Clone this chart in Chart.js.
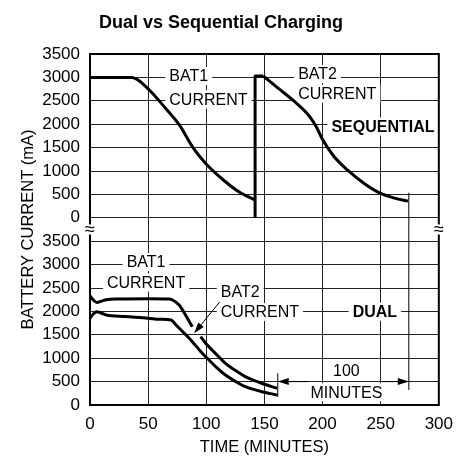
<!DOCTYPE html>
<html>
<head>
<meta charset="utf-8">
<script src="https://cdn.jsdelivr.net/npm/chart.js@4.4.1/dist/chart.umd.min.js"></script>
<style>
html, body { margin: 0; padding: 0; background: #fff; }
#wrap { width: 462px; height: 457px; }
</style>
</head>
<body>
<div id="wrap"><canvas id="chart" width="462" height="457"></canvas></div>
<script>
/* =============================================
 * Dual vs Sequential Charging (time in minutes, current in mA)
 * ============================================= */

// upper (sequential) panel is drawn on the same axis, lifted by this much
const SEQ_OFFSET = 4000;

// ── Sequential: BAT1, the jump to BAT2, then BAT2 ──
const seqBat1T = [0, 36, 41, 51, 65, 77, 88, 99.5, 116.5, 128, 142];
const seqBat1I = [3000, 3000, 2950, 2730, 2340, 1980, 1520, 1160, 770, 556, 378];
const seqJumpT = [142, 142, 149];
const seqJumpI = [0, 3030, 3030];
const seqBat2T = [149, 162, 176, 189, 194.6, 200.3, 210, 221.6, 235.8, 250, 262, 273.5];
const seqBat2I = [3030, 2765, 2480, 2160, 1945, 1660, 1304, 1019, 735, 521, 420, 357];

// ── Dual: both batteries at once (null = break where the pointer crosses) ──
const dualBat1T = [0, 3, 6, 10, 14, 23, 50, 68, 71, 76.7, 82, 88, 92, 95.2, 99.5, 108, 116.5, 125, 133.6, 147, 161];
const dualBat1I = [2330, 2240, 2190, 2220, 2250, 2265, 2270, 2265, 2244, 2137, 1930, 1673, null, 1459, 1318, 1100, 891, 740, 605, 470, 357];
const dualBat2T = [0, 3, 6, 10, 14, 30, 50, 60, 69.7, 74, 80, 88, 95, 102.3, 109, 116.5, 125, 133.6, 147, 161];
const dualBat2I = [1852, 1950, 1994, 1960, 1923, 1890, 1855, 1831, 1816, 1709, 1560, 1353, 1150, 962, 800, 641, 505, 391, 290, 214];

// ── Axes ──
const timeMin = 0, timeMax = 300, timeStep = 50;
const currMin = 0, currMax = 7500, currStep = 500;

const FONT = '"Liberation Sans Narrow", "Liberation Sans", Arial, sans-serif';
const INK = '#000';

// ── Callouts (x in minutes, y on the combined current axis) ──
const notes = [
    { t: 68.2,  align: 'left',   lines: [['BAT1', 7030], ['CURRENT', 6532]] },
    { t: 179,   align: 'left',   lines: [['BAT2', 7073], ['CURRENT', 6652]] },
    { t: 252,   align: 'center', bold: true, lines: [['SEQUENTIAL', 5951]] },
    { t: 48.2,  align: 'center', lines: [['BAT1', 3056], ['CURRENT', 2618]] },
    { t: 112.5, align: 'left',   lines: [['BAT2', 2415], ['CURRENT', 1987]] },
    { t: 245,   align: 'center', bold: true, lines: [['DUAL', 1994]] },
    { t: 220.5, align: 'center', lines: [['100', 733], ['MINUTES', 271]] }
];
const markers = [ { t: 161.5, from: 170, to: 680 }, { t: 274.2, from: 321, to: 4537 } ];
const arrows = [
    { t1: 187.5, i1: 500, t2: 161.5, i2: 500 },
    { t1: 251.4, i1: 500, t2: 274.2, i2: 500 },
    { t1: 111.5, i1: 2200, t2: 89.5, i2: 1532 }
];

function pts(T, I, off) {
    return T.map((t, k) => ({ x: t, y: I[k] === null ? null : I[k] + off }));
}

function curve(data, smooth) {
    return {
        data, showLine: true, borderColor: INK, borderWidth: 3, pointRadius: 0,
        fill: false, spanGaps: false, borderJoinStyle: 'round',
        cubicInterpolationMode: smooth ? 'monotone' : 'default', tension: 0
    };
}

function drawArrow(ctx, x1, y1, x2, y2) {
    const a = Math.atan2(y2 - y1, x2 - x1), len = 11, half = 3.5;
    ctx.beginPath(); ctx.moveTo(x1, y1); ctx.lineTo(x2 - Math.cos(a) * len * 0.8, y2 - Math.sin(a) * len * 0.8); ctx.stroke();
    ctx.beginPath();
    ctx.moveTo(x2, y2);
    ctx.lineTo(x2 - Math.cos(a) * len + Math.sin(a) * half, y2 - Math.sin(a) * len - Math.cos(a) * half);
    ctx.lineTo(x2 - Math.cos(a) * len - Math.sin(a) * half, y2 - Math.sin(a) * len + Math.cos(a) * half);
    ctx.closePath(); ctx.fill();
}

const overlay = {
    id: 'overlay',
    beforeDatasetsDraw(chart) {
        const { ctx, scales: { x, y } } = chart;
        ctx.save();
        ctx.textBaseline = 'middle';
        notes.forEach(n => {
            ctx.font = (n.bold ? 'bold ' : '') + '16px ' + FONT;
            const px = x.getPixelForValue(n.t);
            n.lines.forEach(([txt, v]) => {
                const py = y.getPixelForValue(v), w = ctx.measureText(txt).width;
                const left = n.align === 'left' ? px : px - w / 2;
                ctx.fillStyle = '#fff';
                ctx.fillRect(left - 4, py - 9, w + 8, 18);
                ctx.fillStyle = INK;
                ctx.textAlign = 'left';
                ctx.fillText(txt, left, py + 1);
            });
        });
        ctx.restore();
    },
    afterDatasetsDraw(chart) {
        const { ctx, chartArea: a, scales: { x, y } } = chart;
        ctx.save();
        ctx.strokeStyle = INK; ctx.fillStyle = INK; ctx.lineWidth = 1;
        markers.forEach(m => {
            const px = x.getPixelForValue(m.t);
            ctx.beginPath(); ctx.moveTo(px, y.getPixelForValue(m.from)); ctx.lineTo(px, y.getPixelForValue(m.to)); ctx.stroke();
        });
        arrows.forEach(r => drawArrow(ctx, x.getPixelForValue(r.t1), y.getPixelForValue(r.i1), x.getPixelForValue(r.t2), y.getPixelForValue(r.i2)));
        // frame
        ctx.lineWidth = 2;
        ctx.strokeRect(a.left, a.top, a.right - a.left, a.bottom - a.top);
        // axis break marks
        const yb = y.getPixelForValue(3750);
        ctx.font = '18px ' + FONT; ctx.textAlign = 'center'; ctx.textBaseline = 'middle';
        [a.left, a.right].forEach(px => {
            ctx.fillStyle = '#fff'; ctx.fillRect(px - 2, yb - 5, 4, 10);
            ctx.fillStyle = INK; ctx.fillText('\u2248', px, yb + 1);
        });
        ctx.restore();
    }
};

new Chart(document.getElementById('chart'), {
    type: 'scatter',
    data: {
        datasets: [
            curve(pts(seqBat1T, seqBat1I, SEQ_OFFSET), true),
            curve(pts(seqJumpT, seqJumpI, SEQ_OFFSET), false),
            curve(pts(seqBat2T, seqBat2I, SEQ_OFFSET), true),
            curve(pts(dualBat1T, dualBat1I, 0), true),
            curve(pts(dualBat2T, dualBat2I, 0), true)
        ]
    },
    options: {
        responsive: false, animation: false,
        layout: { padding: { left: 0, right: 20, top: 0, bottom: 0 } },
        plugins: {
            legend: { display: false }, tooltip: { enabled: false },
            title: {
                display: true, text: 'Dual vs Sequential Charging', color: INK,
                font: { family: FONT, size: 18, weight: 'bold' },
                padding: { top: 12, bottom: 20.4 }
            }
        },
        scales: {
            x: {
                type: 'linear', min: timeMin, max: timeMax,
                afterFit: s => { s.height = 52; },
                grid: { color: '#222', lineWidth: 1, drawTicks: false },
                border: { display: false },
                ticks: { stepSize: timeStep, color: INK, padding: 9, font: { family: FONT, size: 17 } },
                title: { display: true, text: 'TIME (MINUTES)', color: INK, font: { family: FONT, size: 16.5, lineHeight: 1 }, padding: { top: 0, bottom: 1 } }
            },
            y: {
                type: 'linear', min: currMin, max: currMax,
                afterFit: s => { s.width = 90; },
                grid: { color: '#222', lineWidth: 1, drawTicks: false },
                border: { display: false },
                ticks: {
                    stepSize: currStep, autoSkip: false, color: INK, padding: 10,
                    font: { family: FONT, size: 17 },
                    callback: v => v >= SEQ_OFFSET ? v - SEQ_OFFSET : v
                },
                title: { display: true, text: 'BATTERY CURRENT (mA)', color: INK, font: { family: FONT, size: 16.5, lineHeight: 1 }, padding: { top: 20 } }
            }
        }
    },
    plugins: [overlay]
});
</script>
</body>
</html>
